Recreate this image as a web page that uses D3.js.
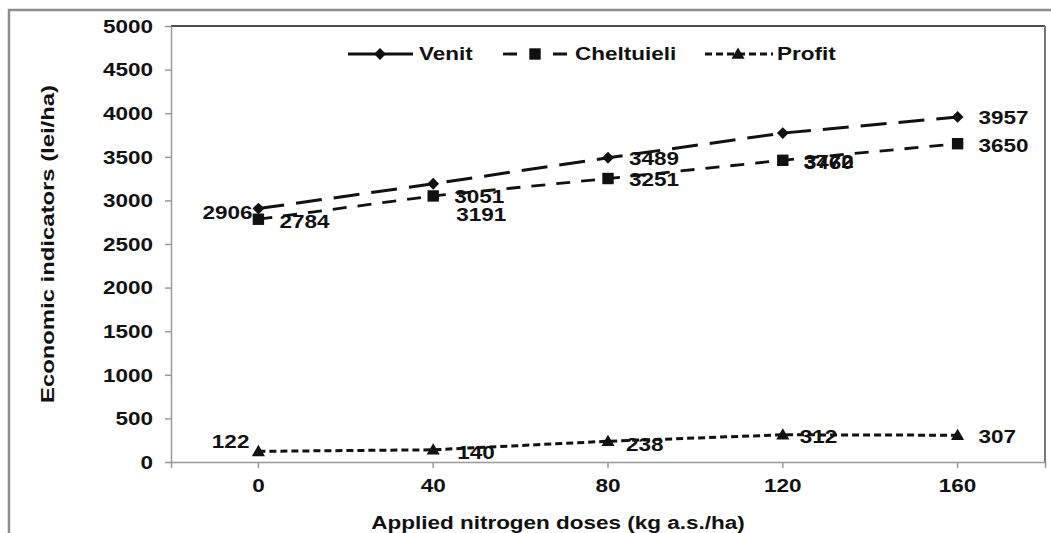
<!DOCTYPE html>
<html>
<head>
<meta charset="utf-8">
<script src="https://cdn.jsdelivr.net/npm/d3@7"></script>
<style>
  html, body { margin: 0; padding: 0; background: #fff; }
  text { font-family: "Liberation Sans", Arial, sans-serif; font-weight: bold; fill: #111; }
</style>
</head>
<body>
<script>
// ---- data ----
const doses = ["0", "40", "80", "120", "160"];
const venit = [2906, 3191, 3489, 3772, 3957];
const cheltuieli = [2784, 3051, 3251, 3460, 3650];
const profit = [122, 140, 238, 312, 307];
const yTicks = [0, 500, 1000, 1500, 2000, 2500, 3000, 3500, 4000, 4500, 5000];
const seriesNames = ["Venit", "Cheltuieli", "Profit"];
const xTitle = "Applied nitrogen doses (kg a.s./ha)";
const yTitle = "Economic indicators (lei/ha)";

// ---- label placement (style) ----
const labelOffsets = {
  Venit: [[-6, 4, "end"], [23, 31, "start"], [21, 1, "start"], [21, 29, "start"], [21, 1, "start"]],
  Cheltuieli: [[21, 2, "start"], [21, 1, "start"], [21, 1.5, "start"], [21, 2, "start"], [21, 1.5, "start"]],
  Profit: [[-9, -10, "end"], [24, 3, "start"], [18, 3, "start"], [17, 2, "start"], [21, 1.5, "start"]]
};

const W = 1051, H = 533;
const SX = 1.25; // horizontal text stretch of the reference
const FS = 18;

const svg = d3.select("body").append("svg").attr("width", W).attr("height", H);

// outer chart border
svg.append("rect").attr("x", 9).attr("y", 10).attr("width", W + 20).attr("height", H + 20)
  .attr("fill", "#fff").attr("stroke", "#8c8c8c").attr("stroke-width", 2.5);

const x = d3.scaleBand().domain(doses).range([171, 1045]);
const y = d3.scaleLinear().domain([0, 5000]).range([462, 26]);
const cx = d => x(d) + x.bandwidth() / 2;

// plot frame (top and right)
svg.append("line").attr("x1", 171).attr("x2", 1045).attr("y1", 26).attr("y2", 26)
  .attr("stroke", "#111").attr("stroke-width", 1.5);
svg.append("line").attr("x1", 1045).attr("x2", 1045).attr("y1", 26).attr("y2", 462)
  .attr("stroke", "#777").attr("stroke-width", 2);

// y axis
const gy = svg.append("g").attr("transform", "translate(171,0)")
  .call(d3.axisLeft(y).tickValues(yTicks).tickFormat(d3.format("d")).tickSize(6).tickSizeOuter(0));
gy.select(".domain").attr("stroke", "#999").attr("stroke-width", 1.5);
gy.selectAll(".tick line").attr("stroke", "#999").attr("stroke-width", 1.5);
gy.selectAll(".tick text").attr("x", null).attr("dy", "0.35em")
  .attr("transform", `translate(-18,0) scale(${SX},1)`)
  .style("font-size", FS + "px").attr("fill", "#111");

// x axis
const gx = svg.append("g").attr("transform", "translate(0,462)")
  .call(d3.axisBottom(x).tickSize(6).tickSizeOuter(6));
gx.select(".domain").attr("stroke", "#999").attr("stroke-width", 1.5);
gx.selectAll(".tick line").attr("stroke", "#999").attr("stroke-width", 1.5);
gx.selectAll(".tick text").attr("y", null).attr("dy", "0.35em")
  .attr("transform", `translate(0,24) scale(${SX},1)`)
  .style("font-size", FS + "px").attr("fill", "#111");

// axis titles
svg.append("text").attr("transform", `translate(558,523) scale(${SX},1)`)
  .attr("text-anchor", "middle").attr("dy", "0.35em").style("font-size", FS + "px").text(xTitle);
svg.append("text").attr("transform", "translate(48,244) rotate(-90)")
  .attr("text-anchor", "middle").attr("dy", "0.35em").style("font-size", FS + "px")
  .attr("textLength", 318).attr("lengthAdjust", "spacingAndGlyphs").text(yTitle);

// series
const series = [
  { name: "Venit", values: venit, dash: "26,12", width: 3, sym: "diamond" },
  { name: "Cheltuieli", values: cheltuieli, dash: "14,11", width: 2.8, sym: "square" },
  { name: "Profit", values: profit, dash: "7,4", width: 3, sym: "triangle" }
];

function marker(g, type, px, py) {
  if (type === "diamond") {
    g.append("path").attr("d", d3.symbol(d3.symbolSquare, 70)())
      .attr("transform", `translate(${px},${py}) rotate(45)`).attr("fill", "#111");
  } else if (type === "square") {
    g.append("path").attr("d", d3.symbol(d3.symbolSquare, 130)())
      .attr("transform", `translate(${px},${py})`).attr("fill", "#111");
  } else {
    g.append("path").attr("d", d3.symbol(d3.symbolTriangle, 75)())
      .attr("transform", `translate(${px},${py + 1})`).attr("fill", "#111");
  }
}

const line = d3.line().x((v, i) => cx(doses[i])).y(v => y(v));

series.forEach(s => {
  const g = svg.append("g");
  g.append("path").attr("d", line(s.values)).attr("fill", "none")
    .attr("stroke", "#111").attr("stroke-width", s.width).attr("stroke-dasharray", s.dash);
  s.values.forEach((v, i) => marker(g, s.sym, cx(doses[i]), y(v)));
});

// data labels
series.forEach(s => {
  s.values.forEach((v, i) => {
    const [dx, dy, anchor] = labelOffsets[s.name][i];
    svg.append("text")
      .attr("transform", `translate(${cx(doses[i]) + dx},${y(v) + dy}) scale(${SX},1)`)
      .attr("text-anchor", anchor).attr("dy", "0.35em").style("font-size", FS + "px")
      .text(v);
  });
});

// legend
const lg = svg.append("g");
const legendItems = [
  { x1: 348, x2: 413, mx: 380, dash: null, tx: 419 },
  { x1: 503, x2: 567, mx: 535, dash: "14,36", tx: 575 },
  { x1: 705, x2: 773, mx: 738, dash: "7,4", tx: 777 }
];
legendItems.forEach((it, k) => {
  const ln = lg.append("line").attr("x1", it.x1).attr("x2", it.x2).attr("y1", 54).attr("y2", 54)
    .attr("stroke", "#111").attr("stroke-width", series[k].width);
  if (it.dash) ln.attr("stroke-dasharray", it.dash);
  marker(lg, series[k].sym, it.mx, 54);
  lg.append("text").attr("transform", `translate(${it.tx},54) scale(${SX},1)`)
    .attr("dy", "0.35em").style("font-size", FS + "px").text(seriesNames[k]);
});
</script>
</body>
</html>
